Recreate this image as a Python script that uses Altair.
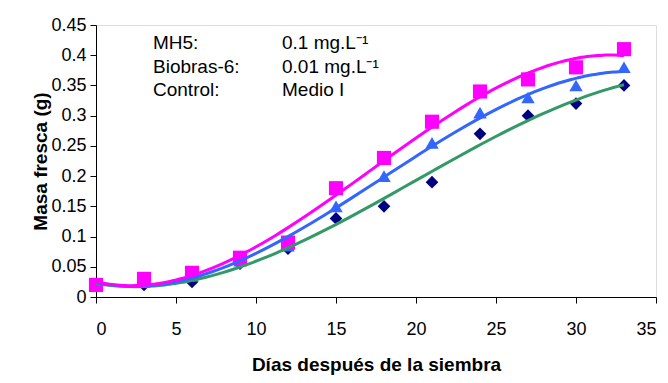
import altair as alt
import pandas as pd

days = [0, 3, 6, 9, 12, 15, 18, 21, 24, 27, 30, 33]
mh5 = [0.02, 0.03, 0.04, 0.065, 0.09, 0.18, 0.23, 0.29, 0.34, 0.36, 0.38, 0.41]
biobras = [0.02, 0.025, 0.035, 0.06, 0.085, 0.15, 0.20, 0.255, 0.305, 0.33, 0.35, 0.38]
control = [0.02, 0.02, 0.025, 0.055, 0.08, 0.13, 0.15, 0.19, 0.27, 0.30, 0.32, 0.35]

series_names = ["Control", "Biobras-6", "MH5"]
marker_colors = {"Control": "#000080", "Biobras-6": "#3366FF", "MH5": "#FF00FF"}
line_colors = {"Control": "#339966", "Biobras-6": "#3366FF", "MH5": "#FF00FF"}
shapes = {"Control": "diamond", "Biobras-6": "triangle-up", "MH5": "square"}

ann_labels = ["MH5:", "Biobras-6:", "Control:"]
ann_values = ["0.1 mg.L⁻¹", "0.01 mg.L⁻¹", "Medio I"]

rows = []
for name, vals in zip(series_names, [control, biobras, mh5]):
    for d, v in zip(days, vals):
        rows.append({"dia": d, "masa": v, "serie": name})
df = pd.DataFrame(rows)

FONT = "Liberation Sans"

xs = alt.Scale(domain=[0, 35], nice=False)
ys = alt.Scale(domain=[0, 0.45], nice=False)

x_axis = alt.Axis(title="Días después de la siembra", values=list(range(0, 36, 5)),
                  grid=False, tickSize=6, labelPadding=17, titlePadding=17,
                  labelFontSize=18, titleFontSize=19, labelFont=FONT, titleFont=FONT,
                  titleFontWeight="bold", domainColor="black", tickColor="black",
                  labelColor="black", titleColor="black")
y_axis = alt.Axis(title="Masa fresca (g)", values=[round(i * 0.05, 2) for i in range(10)],
                  format="~g", grid=False, tickSize=6, labelPadding=4, titlePadding=0,
                  labelFontSize=18, titleFontSize=19, labelFont=FONT, titleFont=FONT,
                  titleFontWeight="bold", domainColor="black", tickColor="black",
                  labelColor="black", titleColor="black")

base = alt.Chart(df)

X = alt.X("dia:Q", scale=xs, axis=x_axis)
Y = alt.Y("masa:Q", scale=ys, axis=y_axis)

lines = []
for name in series_names:
    lines.append(
        base.transform_filter(alt.datum.serie == name)
        .transform_regression("dia", "masa", method="poly", order=3, extent=[0, 33])
        .mark_line(color=line_colors[name], strokeWidth=3, interpolate="monotone")
        .encode(x=X, y=Y)
    )

points = []
for name in series_names:
    size = 200 if shapes[name] == "square" else (180 if shapes[name] == "triangle-up" else 160)
    points.append(
        base.transform_filter(alt.datum.serie == name)
        .mark_point(shape=shapes[name], filled=True, opacity=1, color=marker_colors[name], size=size)
        .encode(x=X, y=Y)
    )

data_layer = alt.layer(*points, *lines)

ann_df = pd.DataFrame({"lab": ann_labels, "val": ann_values, "row": [0, 1, 2]})
ann_y = alt.Y("row:Q", axis=None, scale=alt.Scale(domain=[0, 2], range=[18, 65]))
ann1 = alt.Chart(ann_df).mark_text(align="left", baseline="middle", fontSize=19, font=FONT, color="black").encode(
    x=alt.value(57), y=ann_y, text="lab:N")
ann2 = alt.Chart(ann_df).mark_text(align="left", baseline="middle", fontSize=19, font=FONT, color="black").encode(
    x=alt.value(186), y=ann_y, text="val:N")

chart = alt.layer(data_layer, ann1, ann2).resolve_scale(y="independent").properties(
    width=560, height=272,
    autosize=alt.AutoSizeParams(type="none"),
    padding={"left": 88, "top": 17, "right": 4, "bottom": 80},
).configure_view(stroke=None).configure(background="white")

chart.save("out.html", embed_options={"renderer": "svg", "actions": False})
